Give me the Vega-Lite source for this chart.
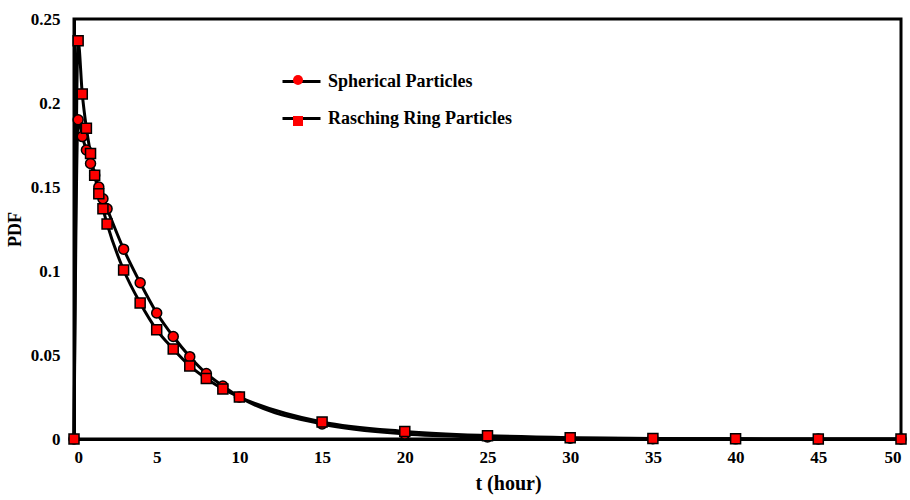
{
  "$schema": "https://vega.github.io/schema/vega-lite/v6.json",
  "width": 827,
  "height": 420,
  "autosize": "none",
  "padding": {"left": 74, "top": 19, "right": 9, "bottom": 61},
  "background": "white",
  "config": {
    "view": {"stroke": "black", "strokeWidth": 3},
    "font": "Liberation Serif",
    "axis": {"labelFont": "Liberation Serif", "titleFont": "Liberation Serif", "labelFontWeight": "bold", "titleFontWeight": "bold", "labelColor": "black", "titleColor": "black", "grid": false, "ticks": false, "domainColor": "black", "domainWidth": 3}
  },
  "data": {
    "values": [
      {"t": 0, "pdf": 0, "series": "Spherical Particles"},
      {"t": 0.25, "pdf": 0.190, "series": "Spherical Particles"},
      {"t": 0.5, "pdf": 0.180, "series": "Spherical Particles"},
      {"t": 0.75, "pdf": 0.172, "series": "Spherical Particles"},
      {"t": 1, "pdf": 0.164, "series": "Spherical Particles"},
      {"t": 1.25, "pdf": 0.157, "series": "Spherical Particles"},
      {"t": 1.5, "pdf": 0.150, "series": "Spherical Particles"},
      {"t": 1.75, "pdf": 0.143, "series": "Spherical Particles"},
      {"t": 2, "pdf": 0.137, "series": "Spherical Particles"},
      {"t": 3, "pdf": 0.113, "series": "Spherical Particles"},
      {"t": 4, "pdf": 0.093, "series": "Spherical Particles"},
      {"t": 5, "pdf": 0.075, "series": "Spherical Particles"},
      {"t": 6, "pdf": 0.061, "series": "Spherical Particles"},
      {"t": 7, "pdf": 0.049, "series": "Spherical Particles"},
      {"t": 8, "pdf": 0.039, "series": "Spherical Particles"},
      {"t": 9, "pdf": 0.0315, "series": "Spherical Particles"},
      {"t": 10, "pdf": 0.025, "series": "Spherical Particles"},
      {"t": 15, "pdf": 0.0089, "series": "Spherical Particles"},
      {"t": 20, "pdf": 0.003, "series": "Spherical Particles"},
      {"t": 25, "pdf": 0.0012, "series": "Spherical Particles"},
      {"t": 30, "pdf": 0.0005, "series": "Spherical Particles"},
      {"t": 35, "pdf": 0.0002, "series": "Spherical Particles"},
      {"t": 40, "pdf": 0.0001, "series": "Spherical Particles"},
      {"t": 45, "pdf": 0, "series": "Spherical Particles"},
      {"t": 50, "pdf": 0, "series": "Spherical Particles"},
      {"t": 0, "pdf": 0, "series": "Rasching Ring Particles"},
      {"t": 0.25, "pdf": 0.237, "series": "Rasching Ring Particles"},
      {"t": 0.5, "pdf": 0.2054, "series": "Rasching Ring Particles"},
      {"t": 0.75, "pdf": 0.185, "series": "Rasching Ring Particles"},
      {"t": 1, "pdf": 0.170, "series": "Rasching Ring Particles"},
      {"t": 1.25, "pdf": 0.157, "series": "Rasching Ring Particles"},
      {"t": 1.5, "pdf": 0.146, "series": "Rasching Ring Particles"},
      {"t": 1.75, "pdf": 0.137, "series": "Rasching Ring Particles"},
      {"t": 2, "pdf": 0.128, "series": "Rasching Ring Particles"},
      {"t": 3, "pdf": 0.1006, "series": "Rasching Ring Particles"},
      {"t": 4, "pdf": 0.081, "series": "Rasching Ring Particles"},
      {"t": 5, "pdf": 0.065, "series": "Rasching Ring Particles"},
      {"t": 6, "pdf": 0.0536, "series": "Rasching Ring Particles"},
      {"t": 7, "pdf": 0.0435, "series": "Rasching Ring Particles"},
      {"t": 8, "pdf": 0.036, "series": "Rasching Ring Particles"},
      {"t": 9, "pdf": 0.0298, "series": "Rasching Ring Particles"},
      {"t": 10, "pdf": 0.025, "series": "Rasching Ring Particles"},
      {"t": 15, "pdf": 0.0101, "series": "Rasching Ring Particles"},
      {"t": 20, "pdf": 0.0045, "series": "Rasching Ring Particles"},
      {"t": 25, "pdf": 0.002, "series": "Rasching Ring Particles"},
      {"t": 30, "pdf": 0.0008, "series": "Rasching Ring Particles"},
      {"t": 35, "pdf": 0.0003, "series": "Rasching Ring Particles"},
      {"t": 40, "pdf": 0.0001, "series": "Rasching Ring Particles"},
      {"t": 45, "pdf": 0, "series": "Rasching Ring Particles"},
      {"t": 50, "pdf": 0, "series": "Rasching Ring Particles"}
    ]
  },
  "encoding": {
    "x": {"field": "t", "type": "quantitative", "scale": {"domain": [0, 50], "nice": false},
      "axis": {"title": "t (hour)", "values": [0, 5, 10, 15, 20, 25, 30, 35, 40, 45, 50], "labelFontSize": 17, "titleFontSize": 20, "labelPadding": 10, "titlePadding": 8, "titleX": 434}},
    "y": {"field": "pdf", "type": "quantitative", "scale": {"domain": [0, 0.25], "nice": false},
      "axis": {"title": "PDF", "values": [0, 0.05, 0.1, 0.15, 0.2, 0.25], "format": "~g", "labelFontSize": 17, "titleFontSize": 18, "labelPadding": 14, "titlePadding": 6}}
  },
  "resolve": {"scale": {"stroke": "independent", "shape": "independent"}, "legend": {"stroke": "independent", "shape": "independent"}},
  "layer": [
    {
      "mark": {"type": "line", "strokeWidth": 3, "interpolate": "monotone"},
      "encoding": {
        "stroke": {"field": "series", "type": "nominal",
          "scale": {"domain": ["Spherical Particles", "Rasching Ring Particles"], "range": ["black", "black"]},
          "legend": {"title": null, "orient": "none", "legendX": 207, "legendY": 42, "padding": 0, "rowPadding": 7,
            "symbolType": "stroke", "symbolSize": 1444, "symbolStrokeWidth": 3, "symbolStrokeColor": "black",
            "labelFont": "Liberation Serif", "labelFontWeight": "bold", "labelFontSize": 18, "labelColor": "black", "labelOffset": 6, "labelLimit": 400}
        }
      }
    },
    {
      "mark": {"type": "point", "filled": true, "fill": "#ff0000", "stroke": "black", "strokeWidth": 1.5, "opacity": 1, "size": 100},
      "encoding": {
        "shape": {"field": "series", "type": "nominal", "sort": ["Spherical Particles", "Rasching Ring Particles"],
          "scale": {"range": ["circle", "square"]},
          "legend": {"title": null, "orient": "none", "legendX": 218, "legendY": 55, "padding": 0, "rowPadding": 25,
            "symbolSize": 100, "symbolFillColor": "#ff0000", "symbolStrokeColor": "black", "symbolStrokeWidth": 1.5, "symbolOpacity": 1,
            "labelExpr": "''", "labelFontSize": 1, "labelOffset": 0,
            "encode": {"symbols": {"update": {"stroke": {"value": "black"}, "strokeWidth": {"value": 1.5}}}}}
        }
      }
    }
  ]
}
